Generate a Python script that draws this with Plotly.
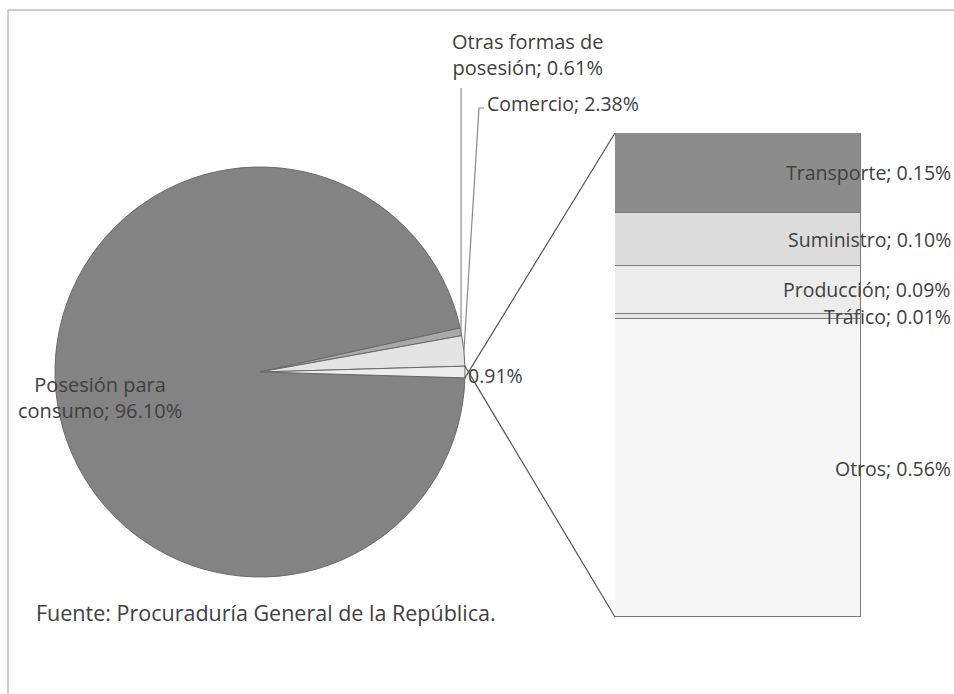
import math
import plotly.graph_objects as go

# Pie: main categories (the last slice is broken out into the bar)
pie_labels = ["Posesión para consumo", "Otras formas de posesión", "Comercio", "Otros"]
pie_values = [96.10, 0.61, 2.38, 0.91]
pie_colors = ["#838383", "#a9a9a9", "#e4e4e4", "#ececec"]

# Bar: breakdown of the 0.91% slice (bottom to top)
bar_labels = ["Otros", "Tráfico", "Producción", "Suministro", "Transporte"]
bar_values = [0.56, 0.01, 0.09, 0.10, 0.15]
bar_colors = ["#f6f6f6", "#e6e6e6", "#ececec", "#dcdcdc", "#8c8c8c"]

W, H = 954, 694
FONT = "Open Sans, sans-serif"
TXT = "#404040"

# pie geometry in pixels
CX, CY, R = 260, 372, 205
# bar geometry in pixels
BX0, BX1, BY0, BY1 = 615, 861, 133, 617


def px(x, y):
    return x / W, 1 - y / H


def edge(angle):
    # angle measured clockwise from 12 o'clock, like plotly pie
    a = math.radians(angle)
    return CX + R * math.sin(a), CY - R * math.cos(a)


total = sum(pie_values)
deg = 360 / total
rotation = 90 + pie_values[-1] * deg / 2

# slice angles (clockwise)
starts = []
acc = rotation
for v in pie_values:
    starts.append(acc)
    acc += v * deg
mids = [s + v * deg / 2 for s, v in zip(starts, pie_values)]

fig = go.Figure()

fig.add_trace(go.Pie(
    labels=pie_labels, values=pie_values, sort=False,
    direction="clockwise", rotation=rotation,
    marker=dict(colors=pie_colors, line=dict(color="#6a6a6a", width=1)),
    textinfo="none", hoverinfo="label+value", showlegend=False,
    domain=dict(x=[(CX - R) / W, (CX + R) / W], y=[1 - (CY + R) / H, 1 - (CY - R) / H]),
))

for lab, v, c in zip(bar_labels, bar_values, bar_colors):
    fig.add_trace(go.Bar(
        x=[0], y=[v], name=lab, width=1,
        marker=dict(color=c, line=dict(color="#7a7a7a", width=1)),
        showlegend=False,
    ))

shapes = []
# frame (top and left edges only)
shapes.append(dict(type="line", xref="paper", yref="paper", x0=8 / W, y0=1 - 10 / H, x1=1, y1=1 - 10 / H,
                   line=dict(color="#bdbdbd", width=1.5)))
shapes.append(dict(type="line", xref="paper", yref="paper", x0=8 / W, y0=1 - 10 / H, x1=8 / W, y1=0,
                   line=dict(color="#bdbdbd", width=1.5)))

# connectors from the broken-out slice to the bar
top_edge = edge(starts[-1] + pie_values[-1] * deg)
bot_edge = edge(starts[-1])
for (ex, ey), by in [(top_edge, BY0), (bot_edge, BY1)]:
    x0, y0 = px(ex, ey)
    x1, y1 = px(BX0, by)
    shapes.append(dict(type="line", xref="paper", yref="paper", x0=x0, y0=y0, x1=x1, y1=y1,
                       line=dict(color="#555555", width=1.2)))

# leader lines
ox, oy = edge(mids[1])
p0 = px(ox, 88)
p1 = px(ox, oy)
shapes.append(dict(type="line", xref="paper", yref="paper", x0=p0[0], y0=p0[1], x1=p1[0], y1=p1[1],
                   line=dict(color="#8a8a8a", width=1.2)))
cx_, cy_ = edge(mids[2])
pts = [px(484, 108), px(479, 108), px(cx_, cy_)]
path = "M {} {} L {} {} L {} {}".format(pts[0][0], pts[0][1], pts[1][0], pts[1][1], pts[2][0], pts[2][1])
shapes.append(dict(type="path", xref="paper", yref="paper", path=path,
                   line=dict(color="#8a8a8a", width=1.2)))

annotations = []


def note(text, x, y, xanchor="center", size=20):
    ax, ay = px(x, y)
    annotations.append(dict(text=text, x=ax, y=ay, xref="paper", yref="paper", xanchor=xanchor,
                            yanchor="middle", showarrow=False, align="center" if xanchor == "center" else xanchor,
                            font=dict(family=FONT, size=size, color=TXT)))


note("Posesión para<br>consumo; %.2f%%" % pie_values[0], 100, 398)
note("Otras formas de<br>posesión; %.2f%%" % pie_values[1], 527, 54)
note("Comercio; %.2f%%" % pie_values[2], 485, 104, "left", 19.5)
note("%.2f%%" % pie_values[3], 466, 375, "left", 19.5)
note("Fuente: Procuraduría General de la República.", 34, 612, "left", 21.5)

cum = 0
for lab, v in zip(bar_labels, bar_values):
    annotations.append(dict(text="%s; %.2f%%" % (lab, v), x=953 / W, y=cum + v / 2, xref="paper", yref="y",
                            xanchor="right", yanchor="middle", showarrow=False,
                            font=dict(family=FONT, size=19.5, color=TXT)))
    cum += v

fig.update_layout(
    width=W, height=H, margin=dict(l=0, r=0, t=0, b=0),
    paper_bgcolor="white", plot_bgcolor="rgba(0,0,0,0)",
    barmode="stack", bargap=0,
    xaxis=dict(domain=[BX0 / W, BX1 / W], range=[-0.5, 0.5], visible=False, fixedrange=True),
    yaxis=dict(domain=[1 - BY1 / H, 1 - BY0 / H], range=[0, sum(bar_values)], visible=False, fixedrange=True),
    shapes=shapes, annotations=annotations,
)

fig.write_html("out.html", config={"displayModeBar": False},
               post_script="document.body.style.margin='0';")
